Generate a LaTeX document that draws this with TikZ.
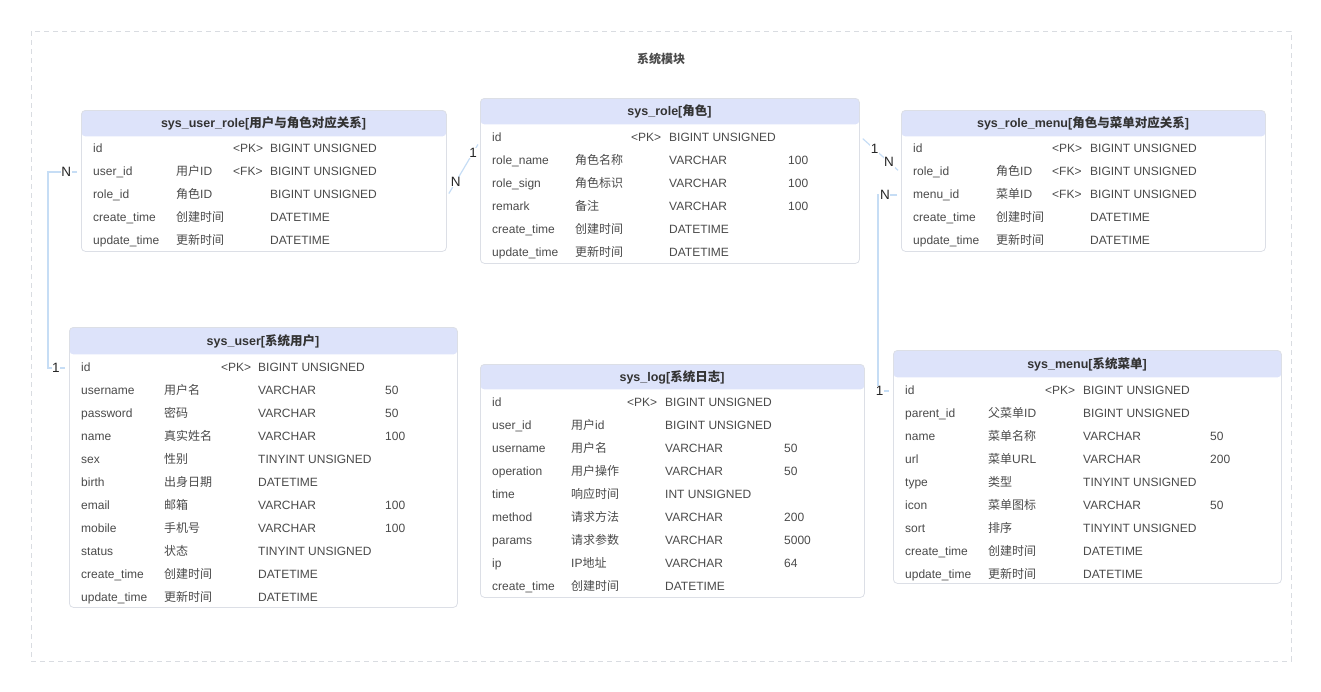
\documentclass[tikz,border=0pt]{standalone}
\usepackage{fontspec}
\setmainfont{Liberation Sans}
\newfontfamily\cjk{Noto Sans CJK SC}
\usetikzlibrary{calc}

\definecolor{framegrey}{HTML}{D9DCE1}
\definecolor{tblline}{HTML}{DCDFE6}
\definecolor{hdfill}{HTML}{DDE3FA}
\definecolor{fldtext}{HTML}{4A4A4A}
\definecolor{hdtext}{HTML}{333333}
\definecolor{linkblue}{HTML}{C6DDF5}

\tikzset{
  tbl/.style={draw=tblline, line width=.8pt, rounded corners=4pt, anchor=north west, inner sep=0pt,
    path picture={\fill[hdfill] (path picture bounding box.north west) rectangle ([yshift=-#1]path picture bounding box.north east);}},
  hd/.style={font=\fontsize{12.5}{14}\selectfont\bfseries, text=hdtext, inner sep=0pt},
  fld/.style={anchor=west, inner sep=0pt, text height=9pt, text depth=2.5pt, text=fldtext, font=\fontsize{12}{14}\selectfont},
  cmt/.style={fld, font=\fontsize{12}{14}\selectfont\cjk},
  link/.style={draw=linkblue, line width=1.2pt, shorten <=4pt, shorten >=4pt},
  card/.style={font=\fontsize{13.5}{15}\selectfont, text=black!85, fill=white, inner sep=.6pt}
}
\newcommand\lat[1]{{\rmfamily #1}}

\begin{document}
\begin{tikzpicture}[x=1pt,y=-1pt]
\useasboundingbox (0,0) rectangle (1321,691);
\draw[framegrey, dash pattern=on 5pt off 4pt] (31,31) rectangle (1291,661);
\node[font=\fontsize{12}{14}\selectfont\cjk\bfseries, text=fldtext] (title) at (661,59) {系统模块};

% sys_user_role
\node[tbl=26pt, minimum width=365pt, minimum height=141pt] (ur) at (81,110) {};
\node[hd] (ur-h) at (263.5,123) {sys\_user\_role[{\cjk 用户与角色对应关系}]};
\foreach \n/\c/\k/\t [count=\i] in {id/{}/<PK>/BIGINT UNSIGNED, user\_id/用户\lat{ID}/<FK>/BIGINT UNSIGNED,
    role\_id/角色\lat{ID}/{}/BIGINT UNSIGNED, create\_time/创建时间/{}/DATETIME, update\_time/更新时间/{}/DATETIME}{
  \node[fld] (ur\i) at (93,126+23*\i) {\n};
  \node[cmt] (ur\i-c) at (176,126+23*\i) {\c};
  \node[fld] (ur\i-k) at (233,126+23*\i) {\k};
  \node[fld] (ur\i-t) at (270,126+23*\i) {\t};
}

% sys_role
\node[tbl=26pt, minimum width=379pt, minimum height=165pt] (r) at (480,98) {};
\node[hd] (r-h) at (669.5,111) {sys\_role[{\cjk 角色}]};
\foreach \n/\c/\k/\t/\l [count=\i] in {id/{}/<PK>/BIGINT UNSIGNED/{}, role\_name/角色名称/{}/VARCHAR/100,
    role\_sign/角色标识/{}/VARCHAR/100, remark/备注/{}/VARCHAR/100,
    create\_time/创建时间/{}/DATETIME/{}, update\_time/更新时间/{}/DATETIME/{}}{
  \node[fld] (r\i) at (492,115+23*\i) {\n};
  \node[cmt] (r\i-c) at (575,115+23*\i) {\c};
  \node[fld] (r\i-k) at (631,115+23*\i) {\k};
  \node[fld] (r\i-t) at (669,115+23*\i) {\t};
  \node[fld] (r\i-l) at (788,115+23*\i) {\l};
}

% sys_role_menu
\node[tbl=26pt, minimum width=364pt, minimum height=141pt] (rm) at (901,110) {};
\node[hd] (rm-h) at (1083,123) {sys\_role\_menu[{\cjk 角色与菜单对应关系}]};
\foreach \n/\c/\k/\t [count=\i] in {id/{}/<PK>/BIGINT UNSIGNED, role\_id/角色\lat{ID}/<FK>/BIGINT UNSIGNED,
    menu\_id/菜单\lat{ID}/<FK>/BIGINT UNSIGNED, create\_time/创建时间/{}/DATETIME, update\_time/更新时间/{}/DATETIME}{
  \node[fld] (rm\i) at (913,126+23*\i) {\n};
  \node[cmt] (rm\i-c) at (996,126+23*\i) {\c};
  \node[fld] (rm\i-k) at (1052,126+23*\i) {\k};
  \node[fld] (rm\i-t) at (1090,126+23*\i) {\t};
}

% sys_user
\node[tbl=27pt, minimum width=388pt, minimum height=280pt] (u) at (69,327) {};
\node[hd] (u-h) at (263,341) {sys\_user[{\cjk 系统用户}]};
\foreach \n/\c/\k/\t/\l [count=\i] in {id/{}/<PK>/BIGINT UNSIGNED/{}, username/用户名/{}/VARCHAR/50,
    password/密码/{}/VARCHAR/50, name/真实姓名/{}/VARCHAR/100, sex/性别/{}/TINYINT UNSIGNED/{},
    birth/出身日期/{}/DATETIME/{}, email/邮箱/{}/VARCHAR/100, mobile/手机号/{}/VARCHAR/100,
    status/状态/{}/TINYINT UNSIGNED/{}, create\_time/创建时间/{}/DATETIME/{}, update\_time/更新时间/{}/DATETIME/{}}{
  \node[fld] (u\i) at (81,345+23*\i) {\n};
  \node[cmt] (u\i-c) at (164,345+23*\i) {\c};
  \node[fld] (u\i-k) at (221,345+23*\i) {\k};
  \node[fld] (u\i-t) at (258,345+23*\i) {\t};
  \node[fld] (u\i-l) at (385,345+23*\i) {\l};
}

% sys_log
\node[tbl=25pt, minimum width=384pt, minimum height=233pt] (l) at (480,364) {};
\node[hd] (l-h) at (672,377) {sys\_log[{\cjk 系统日志}]};
\foreach \n/\c/\k/\t/\l [count=\i] in {id/{}/<PK>/BIGINT UNSIGNED/{}, user\_id/用户\lat{id}/{}/BIGINT UNSIGNED/{},
    username/用户名/{}/VARCHAR/50, operation/用户操作/{}/VARCHAR/50, time/响应时间/{}/INT UNSIGNED/{},
    method/请求方法/{}/VARCHAR/200, params/请求参数/{}/VARCHAR/5000, ip/\lat{IP}地址/{}/VARCHAR/64,
    create\_time/创建时间/{}/DATETIME/{}}{
  \node[fld] (l\i) at (492,380+23*\i) {\n};
  \node[cmt] (l\i-c) at (571,380+23*\i) {\c};
  \node[fld] (l\i-k) at (627,380+23*\i) {\k};
  \node[fld] (l\i-t) at (665,380+23*\i) {\t};
  \node[fld] (l\i-l) at (784,380+23*\i) {\l};
}

% sys_menu
\node[tbl=27pt, minimum width=388pt, minimum height=233pt] (m) at (893,350) {};
\node[hd] (m-h) at (1087,364) {sys\_menu[{\cjk 系统菜单}]};
\foreach \n/\c/\k/\t/\l [count=\i] in {id/{}/<PK>/BIGINT UNSIGNED/{}, parent\_id/父菜单\lat{ID}/{}/BIGINT UNSIGNED/{},
    name/菜单名称/{}/VARCHAR/50, url/菜单\lat{URL}/{}/VARCHAR/200, type/类型/{}/TINYINT UNSIGNED/{},
    icon/菜单图标/{}/VARCHAR/50, sort/排序/{}/TINYINT UNSIGNED/{}, create\_time/创建时间/{}/DATETIME/{},
    update\_time/更新时间/{}/DATETIME/{}}{
  \node[fld] (m\i) at (905,368+23*\i) {\n};
  \node[cmt] (m\i-c) at (988,368+23*\i) {\c};
  \node[fld] (m\i-k) at (1045,368+23*\i) {\k};
  \node[fld] (m\i-t) at (1083,368+23*\i) {\t};
  \node[fld] (m\i-l) at (1210,368+23*\i) {\l};
}

% relations
\draw[link] (ur2 -| ur.west) -- ++(-33,0) node[card,pos=.45] (c1) {N} |- (u1 -| u.west) node[card,pos=.69] (c2) {1};
\draw[link] ($(ur3 -| ur.east)+(0,2)$) -- node[card,pos=.27] (c3) {N} node[card,pos=.79] (c4) {1} ($(r1 -| r.west)+(0,3)$);
\draw[link] ($(r1 -| r.east)+(0,-2)$) -- node[card,pos=.36] (c5) {1} node[card,pos=.71] (c6) {N} ($(rm2 -| rm.west)+(0,1)$);
\draw[link] (rm3 -| rm.west) -- ++(-23,0) node[card,pos=.7] (c7) {N} |- (m1 -| m.west) node[card,pos=.55] (c8) {1};
\end{tikzpicture}
\end{document}
